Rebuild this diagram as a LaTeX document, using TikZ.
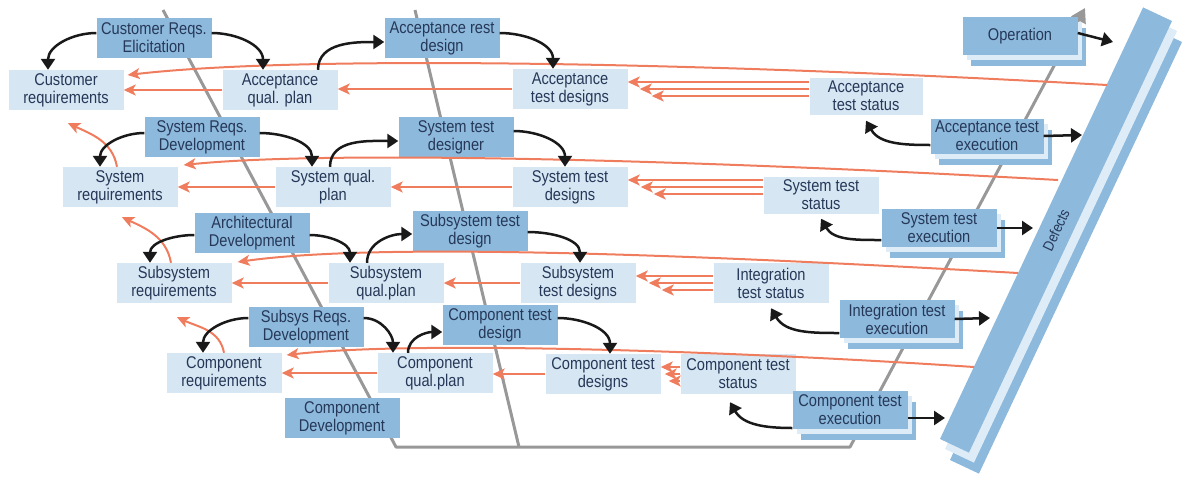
\documentclass[tikz,border=0pt]{standalone}
\usepackage{fontspec}
\setmainfont{Liberation Sans}[FakeStretch=0.86]
\usepackage{tikz}
\usetikzlibrary{arrows.meta,shadows,calc}

\definecolor{procblue}{RGB}{141,185,220}
\definecolor{itemblue}{RGB}{214,230,243}
\definecolor{edgeblue}{RGB}{222,236,247}
\definecolor{fixorange}{RGB}{240,124,94}
\definecolor{textnavy}{RGB}{38,56,88}
\definecolor{vgray}{RGB}{152,152,152}

\begin{document}
\begin{tikzpicture}[x=1pt, y=-1pt,
    every node/.style={font=\fontsize{17}{18}\selectfont, text=textnavy, align=center, inner sep=1pt},
    proc/.style={fill=procblue, minimum width=115pt, minimum height=40pt},
    item/.style={fill=itemblue, minimum width=115pt, minimum height=40pt},
    stack/.style={proc, minimum height=38pt,
      general shadow={shadow xshift=8pt, shadow yshift=-11pt, fill=procblue},
      general shadow={shadow xshift=4pt, shadow yshift=-5pt, fill=edgeblue}},
    bar/.style={fill=procblue, rotate=64.8, minimum width=477pt, minimum height=32pt,
      general shadow={shadow xshift=10pt, shadow yshift=-21pt, fill=procblue},
      general shadow={shadow xshift=5pt, shadow yshift=-10pt, fill=edgeblue}},
    flow/.style={-{Triangle[length=11pt,width=14pt]}, line width=2.5pt, black!90},
    fix/.style={-{Stealth[length=12pt,width=11pt,inset=3pt]}, line width=2pt, fixorange},
    vline/.style={line width=3pt, vgray}]
  \useasboundingbox (0,0) rectangle (1191,477);

  \coordinate (va) at (163,10);
  \coordinate (vb) at (396,447);
  \coordinate (vc) at (850,447);
  \coordinate (vd) at (1085,8);
  \coordinate (wa) at (415,10);
  \coordinate (wb) at (519,447);
  \draw[vline, line join=round, -{Triangle[length=14pt,width=16pt]}] (va) -- (vb) -- (vc) -- (vd);
  \draw[vline] (wa) -- (wb);

  \node[bar, font=\fontsize{15}{16}\selectfont] (defects) at (1056,230) {Defects};

  \node[proc] (cre) at (154,38) {Customer Reqs.\\Elicitation};
  \node[item] (cr) at (66,90) {Customer\\requirements};
  \node[item] (aqp) at (280,90) {Acceptance\\qual. plan};
  \node[proc] (atd) at (442,38) {Acceptance rest\\design};
  \node[item] (atds) at (570,89) {Acceptance\\test designs};
  \node[item, minimum width=113pt, minimum height=37pt] (ats) at (866,96) {Acceptance\\test status};
  \node[stack] (op) at (1020,36) {Operation};
  \node[stack, minimum width=113pt, minimum height=35pt] (ate) at (987,136) {Acceptance test\\execution};

  \node[proc] (srd) at (202,137) {System Reqs.\\Development};
  \node[item] (sr) at (120,187) {System\\requirements};
  \node[item] (sqp) at (333,187) {System qual.\\plan};
  \node[proc] (std) at (456,137) {System test\\designer};
  \node[item] (stds) at (570,187) {System test\\designs};
  \node[item, minimum height=37pt] (sts) at (821,195) {System test\\status};
  \node[stack] (ste) at (939,228) {System test\\execution};

  \node[proc] (ad) at (252,233) {Architectural\\Development};
  \node[item] (ssr) at (174,283) {Subsystem\\requirements};
  \node[item] (ssqp) at (386,283) {Subsystem\\qual.plan};
  \node[proc] (sstd) at (470,231) {Subsystem test\\design};
  \node[item] (sstds) at (578,283) {Subsystem\\test designs};
  \node[item] (its) at (771,283) {Integration\\test status};
  \node[stack] (ite) at (897,319) {Integration test\\execution};

  \node[proc] (ssrd) at (306,327) {Subsys Reqs.\\Development};
  \node[item] (cor) at (224,373) {Component\\requirements};
  \node[item] (cqp) at (435,373) {Component\\qual.plan};
  \node[proc] (ctd) at (500,325) {Component test\\design};
  \node[item] (ctds) at (603,374) {Component test\\designs};
  \node[item] (cts) at (738,374) {Component test\\status};
  \node[stack] (cte) at (850,410) {Component test\\execution};
  \node[proc] (cd) at (342,418) {Component\\Development};

  \coordinate (d1) at (1107,85);
  \coordinate (d2) at (1058,180);
  \coordinate (d3) at (1018,273);
  \coordinate (d4) at (974,367);
  \coordinate (e0) at (1113,42);
  \coordinate (e1) at (1082,135);
  \coordinate (e2) at (1033,228);
  \coordinate (e3) at (990,318);
  \coordinate (e4) at (945,418);

  \draw[fix] (d1) .. controls (700,62) and (300,55) .. ([xshift=4pt,yshift=15pt]cr.east);
  \draw[fix] (d2) .. controls (700,160) and (330,150) .. ([xshift=6pt,yshift=22pt]sr.east);
  \draw[fix] (d3) .. controls (700,255) and (380,242) .. ([xshift=6pt,yshift=21pt]ssr.east);
  \draw[fix] (d4) .. controls (750,352) and (420,340) .. ([xshift=5pt,yshift=18pt]cor.east);

  \draw[fix] (aqp.west) -- (aqp.west -| cr.east);
  \draw[fix] (atds.west) -- (atds.west -| aqp.east);
  \draw[fix] (sqp.west) -- (sqp.west -| sr.east);
  \draw[fix] (stds.west) -- (stds.west -| sqp.east);
  \draw[fix] (ssqp.west) -- (ssqp.west -| ssr.east);
  \draw[fix] (sstds.west) -- (sstds.west -| ssqp.east);
  \draw[fix] (cqp.west) -- (cqp.west -| cor.east);
  \draw[fix] (ctds.west) -- (ctds.west -| cqp.east);

  \foreach \s/\d/\g in {ats/atds/12, sts/stds/13, its/sstds/13, cts/ctds/4}
    \foreach \k in {-1,0,1}
      \draw[fix] ($(\s.west |- \d.east)+(0,7*\k)$) -- ($(\d.east)+(\g*\k+\g,7*\k)$);

  \draw[fix] ([xshift=-3pt]sr.north) to[out=100,in=-25] ([xshift=2pt,yshift=-13pt]cr.south);
  \draw[fix] ([xshift=-3pt]ssr.north) to[out=100,in=-25] ([xshift=2pt,yshift=-10pt]sr.south);
  \draw[fix] (cor.north) to[out=100,in=-25] ([xshift=3pt,yshift=-14pt]ssr.south);

  \draw[flow] ([yshift=5pt]cre.west) to[out=180,in=90] ([xshift=-18pt]cr.north);
  \draw[flow] ([yshift=5pt]cre.east) to[out=0,in=90] ([xshift=-17pt]aqp.north);
  \draw[flow] ([xshift=38pt]aqp.north) to[out=90,in=180] ([yshift=-4pt]atd.west);
  \draw[flow] ([yshift=5pt]atd.east) to[out=0,in=90] ([xshift=-17pt]atds.north);

  \draw[flow] ([yshift=4pt]srd.west) to[out=180,in=90] ([xshift=-20pt]sr.north);
  \draw[flow] ([yshift=4pt]srd.east) to[out=0,in=90] ([xshift=-21pt]sqp.north);
  \draw[flow] ([xshift=-3pt]sqp.north) to[out=90,in=180] ([yshift=-4pt]std.west);
  \draw[flow] ([yshift=6pt]std.east) to[out=0,in=90] ([xshift=-5pt]stds.north);

  \draw[flow] ([yshift=-2pt]ad.west) to[out=180,in=90] ([xshift=-24pt]ssr.north);
  \draw[flow] ([yshift=-2pt]ad.east) to[out=0,in=90] ([xshift=-36pt]ssqp.north);
  \draw[flow] ([xshift=-19pt]ssqp.north) to[out=90,in=180] ([yshift=-3pt]sstd.west);
  \draw[flow] ([yshift=-1pt]sstd.east) to[out=0,in=90] ([xshift=2pt]sstds.north);

  \draw[flow] ([yshift=9pt]ssrd.west) to[out=180,in=90] ([xshift=-21pt]cor.north);
  \draw[flow] ([yshift=9pt]ssrd.east) to[out=0,in=90] ([xshift=-42pt]cqp.north);
  \draw[flow] ([xshift=-27pt]cqp.north) to[out=90,in=180] ([yshift=-7pt]ctd.west);
  \draw[flow] ([yshift=7pt]ctd.east) to[out=0,in=90] ([xshift=7pt]ctds.north);

  \draw[flow] ([yshift=-9pt]ate.west) to[out=180,in=-60] ([yshift=-6pt]ats.south);
  \draw[flow] ([yshift=-12pt]ste.west) to[out=180,in=-60] ([yshift=-5pt]sts.south);
  \draw[flow] ([yshift=-14pt]ite.west) to[out=180,in=-60] ([yshift=-5pt]its.south);
  \draw[flow] ([yshift=-18pt]cte.west) to[out=180,in=-60] ([xshift=-8pt,yshift=-8pt]cts.south);

  \draw[flow] ([yshift=3pt]op.east) -- (e0);
  \draw[flow] (ate.east) -- (e1);
  \draw[flow] (ste.east) -- (e2);
  \draw[flow] (ite.east) -- (e3);
  \draw[flow] ([yshift=-8pt]cte.east) -- (e4);
\end{tikzpicture}
\end{document}
